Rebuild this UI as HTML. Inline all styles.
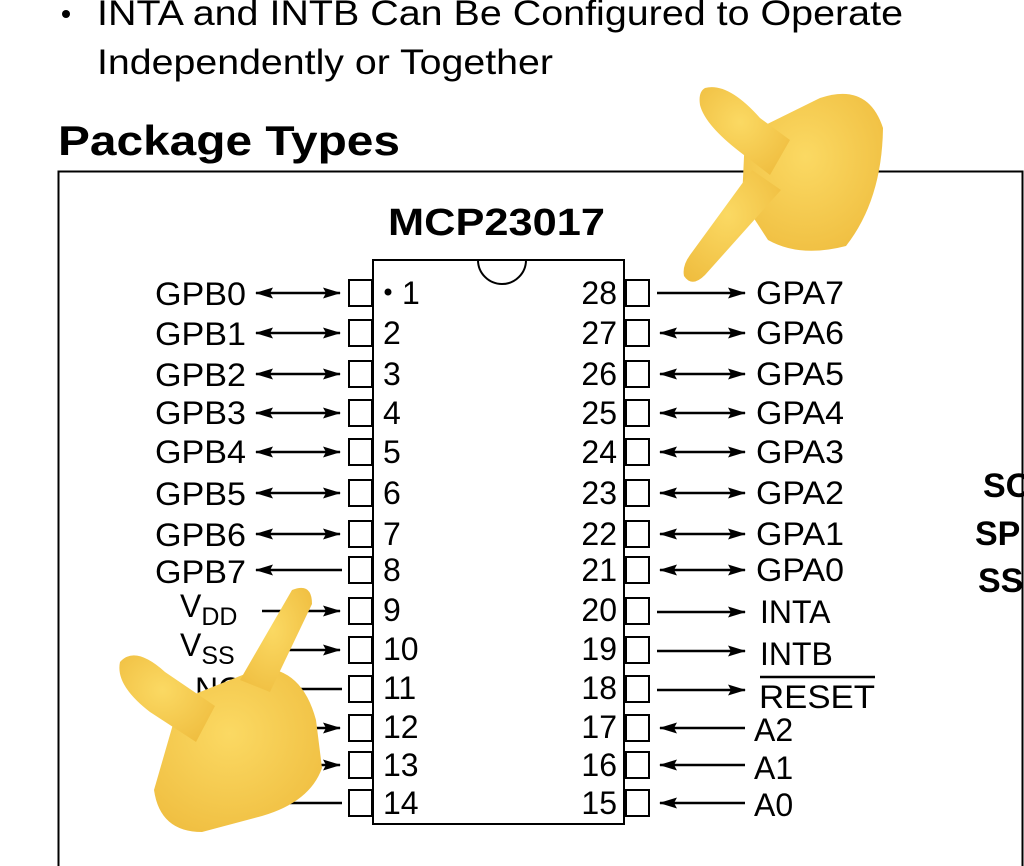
<!DOCTYPE html>
<html><head><meta charset="utf-8"><style>
html,body{margin:0;padding:0;background:#fff;}
svg{display:block;}
text{font-family:"Liberation Sans",Arial,sans-serif;fill:#000;}
</style></head><body>
<svg width="1024" height="866" viewBox="0 0 1024 866" xmlns="http://www.w3.org/2000/svg">
<defs>
<marker id="ah" viewBox="0 0 18 12" refX="17" refY="6" markerWidth="18" markerHeight="12" markerUnits="userSpaceOnUse" orient="auto-start-reverse"><path d="M0,0.5 L18,6 L0,11.5 L3,6 Z" fill="#000"/></marker>
<radialGradient id="hg" cx="0.45" cy="0.4" r="0.7"><stop offset="0" stop-color="#fbd963"/><stop offset="1" stop-color="#efbd3f"/></radialGradient>
</defs>
<circle cx="66" cy="14" r="4" fill="#000"/>
<text x="97" y="25" font-size="35" textLength="806" lengthAdjust="spacingAndGlyphs">INTA and INTB Can Be Configured to Operate</text>
<text x="97" y="74" font-size="35" textLength="456" lengthAdjust="spacingAndGlyphs">Independently or Together</text>
<text x="58" y="155" font-size="42" font-weight="bold" textLength="342" lengthAdjust="spacingAndGlyphs">Package Types</text>
<path d="M58.5,866 V171.5 H1022.5 V866" fill="none" stroke="#000" stroke-width="2"/>
<text x="388" y="235" font-size="38" font-weight="bold" textLength="217" lengthAdjust="spacingAndGlyphs">MCP23017</text>
<rect x="373" y="260" width="251" height="564" fill="#fff" stroke="#000" stroke-width="2"/>
<path d="M478,260 A24,24 0 0 0 526,260" fill="none" stroke="#000" stroke-width="2"/>
<circle cx="388" cy="292" r="3.5" fill="#000"/>
<g stroke="#000" stroke-width="2" fill="#fff">
<rect x="349" y="280" width="23" height="26"/><rect x="349" y="320" width="23" height="26"/><rect x="349" y="361" width="23" height="26"/><rect x="349" y="400" width="23" height="26"/><rect x="349" y="439" width="23" height="26"/><rect x="349" y="480" width="23" height="26"/><rect x="349" y="521" width="23" height="26"/><rect x="349" y="557" width="23" height="26"/><rect x="349" y="598" width="23" height="26"/><rect x="349" y="637" width="23" height="26"/><rect x="349" y="676" width="23" height="26"/><rect x="349" y="715" width="23" height="26"/><rect x="349" y="752" width="23" height="26"/><rect x="349" y="790" width="23" height="26"/>
<rect x="626" y="280" width="23" height="26"/><rect x="626" y="320" width="23" height="26"/><rect x="626" y="361" width="23" height="26"/><rect x="626" y="400" width="23" height="26"/><rect x="626" y="439" width="23" height="26"/><rect x="626" y="480" width="23" height="26"/><rect x="626" y="521" width="23" height="26"/><rect x="626" y="557" width="23" height="26"/><rect x="626" y="598" width="23" height="26"/><rect x="626" y="637" width="23" height="26"/><rect x="626" y="676" width="23" height="26"/><rect x="626" y="715" width="23" height="26"/><rect x="626" y="752" width="23" height="26"/><rect x="626" y="790" width="23" height="26"/>
</g>
<g stroke="#000" stroke-width="2.5">
<line x1="256" y1="293" x2="340" y2="293" marker-start="url(#ah)" marker-end="url(#ah)"/>
<line x1="256" y1="333" x2="340" y2="333" marker-start="url(#ah)" marker-end="url(#ah)"/>
<line x1="256" y1="374" x2="340" y2="374" marker-start="url(#ah)" marker-end="url(#ah)"/>
<line x1="256" y1="413" x2="340" y2="413" marker-start="url(#ah)" marker-end="url(#ah)"/>
<line x1="256" y1="452" x2="340" y2="452" marker-start="url(#ah)" marker-end="url(#ah)"/>
<line x1="256" y1="493" x2="340" y2="493" marker-start="url(#ah)" marker-end="url(#ah)"/>
<line x1="256" y1="534" x2="340" y2="534" marker-start="url(#ah)" marker-end="url(#ah)"/>
<line x1="256" y1="570" x2="342" y2="570" marker-start="url(#ah)"/>
<line x1="262" y1="611" x2="340" y2="611" marker-end="url(#ah)"/>
<line x1="262" y1="650" x2="340" y2="650" marker-end="url(#ah)"/>
<line x1="262" y1="689" x2="342" y2="689"/>
<line x1="262" y1="728" x2="340" y2="728" marker-end="url(#ah)"/>
<line x1="262" y1="765" x2="340" y2="765" marker-end="url(#ah)"/>
<line x1="262" y1="803" x2="342" y2="803"/>
<line x1="657" y1="293" x2="745" y2="293" marker-end="url(#ah)"/>
<line x1="660" y1="333" x2="745" y2="333" marker-start="url(#ah)" marker-end="url(#ah)"/>
<line x1="660" y1="374" x2="745" y2="374" marker-start="url(#ah)" marker-end="url(#ah)"/>
<line x1="660" y1="413" x2="745" y2="413" marker-start="url(#ah)" marker-end="url(#ah)"/>
<line x1="660" y1="452" x2="745" y2="452" marker-start="url(#ah)" marker-end="url(#ah)"/>
<line x1="660" y1="493" x2="745" y2="493" marker-start="url(#ah)" marker-end="url(#ah)"/>
<line x1="660" y1="534" x2="745" y2="534" marker-start="url(#ah)" marker-end="url(#ah)"/>
<line x1="660" y1="570" x2="745" y2="570" marker-start="url(#ah)" marker-end="url(#ah)"/>
<line x1="657" y1="612" x2="745" y2="612" marker-end="url(#ah)"/>
<line x1="657" y1="651" x2="745" y2="651" marker-end="url(#ah)"/>
<line x1="657" y1="690" x2="745" y2="690" marker-end="url(#ah)"/>
<line x1="660" y1="728" x2="745" y2="728" marker-start="url(#ah)"/>
<line x1="660" y1="765" x2="745" y2="765" marker-start="url(#ah)"/>
<line x1="660" y1="803" x2="745" y2="803" marker-start="url(#ah)"/>
<line x1="760" y1="677" x2="875" y2="677"/>
</g>
<g font-size="32" text-anchor="end">
<text x="246" y="305" textLength="91" lengthAdjust="spacingAndGlyphs">GPB0</text><text x="246" y="345" textLength="91" lengthAdjust="spacingAndGlyphs">GPB1</text><text x="246" y="386" textLength="91" lengthAdjust="spacingAndGlyphs">GPB2</text><text x="246" y="424" textLength="91" lengthAdjust="spacingAndGlyphs">GPB3</text><text x="246" y="463" textLength="91" lengthAdjust="spacingAndGlyphs">GPB4</text><text x="246" y="505" textLength="91" lengthAdjust="spacingAndGlyphs">GPB5</text><text x="246" y="546" textLength="91" lengthAdjust="spacingAndGlyphs">GPB6</text><text x="246" y="583" textLength="91" lengthAdjust="spacingAndGlyphs">GPB7</text>
</g>
<g font-size="32">
<text x="180" y="617">V<tspan font-size="25" dy="8">DD</tspan></text>
<text x="180" y="656">V<tspan font-size="25" dy="8">SS</tspan></text>
<text x="195" y="700">NC</text>
<text x="180" y="740">SCL</text>
<text x="180" y="777">SDA</text>
<text x="195" y="815">NC</text>
</g>
<g font-size="32">
<text x="402" y="304">1</text><text x="383" y="344">2</text><text x="383" y="385">3</text><text x="383" y="424">4</text><text x="383" y="463">5</text><text x="383" y="504">6</text><text x="383" y="545">7</text><text x="383" y="581">8</text><text x="383" y="621">9</text><text x="383" y="660">10</text><text x="383" y="699">11</text><text x="383" y="738">12</text><text x="383" y="776">13</text><text x="383" y="814">14</text>
</g>
<g font-size="32" text-anchor="end">
<text x="617" y="304">28</text><text x="617" y="344">27</text><text x="617" y="385">26</text><text x="617" y="424">25</text><text x="617" y="463">24</text><text x="617" y="504">23</text><text x="617" y="545">22</text><text x="617" y="581">21</text><text x="617" y="621">20</text><text x="617" y="660">19</text><text x="617" y="699">18</text><text x="617" y="738">17</text><text x="617" y="776">16</text><text x="617" y="814">15</text>
</g>
<g font-size="32">
<text x="756" y="304" textLength="88" lengthAdjust="spacingAndGlyphs">GPA7</text><text x="756" y="344" textLength="88" lengthAdjust="spacingAndGlyphs">GPA6</text><text x="756" y="385" textLength="88" lengthAdjust="spacingAndGlyphs">GPA5</text><text x="756" y="424" textLength="88" lengthAdjust="spacingAndGlyphs">GPA4</text><text x="756" y="463" textLength="88" lengthAdjust="spacingAndGlyphs">GPA3</text><text x="756" y="504" textLength="88" lengthAdjust="spacingAndGlyphs">GPA2</text><text x="756" y="545" textLength="88" lengthAdjust="spacingAndGlyphs">GPA1</text><text x="756" y="581" textLength="88" lengthAdjust="spacingAndGlyphs">GPA0</text>
<text x="760" y="623">INTA</text><text x="760" y="665">INTB</text><text x="759" y="708" textLength="116" lengthAdjust="spacingAndGlyphs">RESET</text>
<text x="754" y="741">A2</text><text x="754" y="779">A1</text><text x="754" y="816">A0</text>
</g>
<g font-size="34" font-weight="bold">
<text x="983" y="497">SO</text><text x="975" y="545">SP</text><text x="978" y="592">SS</text>
</g>
<g fill="url(#hg)">
<path d="M745,135 L820,98 Q868,82 883,128 Q882,200 846,246 Q800,258 768,240 L742,200 Z"/>
<path d="M705,88 Q728,82 760,118 L790,140 L770,175 L740,152 Q705,125 700,105 Q698,92 705,88 Z"/>
<path d="M752,170 L781,190 L705,275 Q692,288 684,276 Q682,266 690,255 Z"/>
<path d="M180,700 L260,668 Q302,668 316,720 L322,768 Q310,802 262,816 L202,832 Q160,832 154,790 Z"/>
<path d="M120,662 Q135,645 165,672 L215,706 L196,742 L150,712 Q115,685 120,662 Z"/>
<path d="M292,590 Q312,582 312,604 L270,692 L240,680 Z"/>
</g>
</svg>
</body></html>
